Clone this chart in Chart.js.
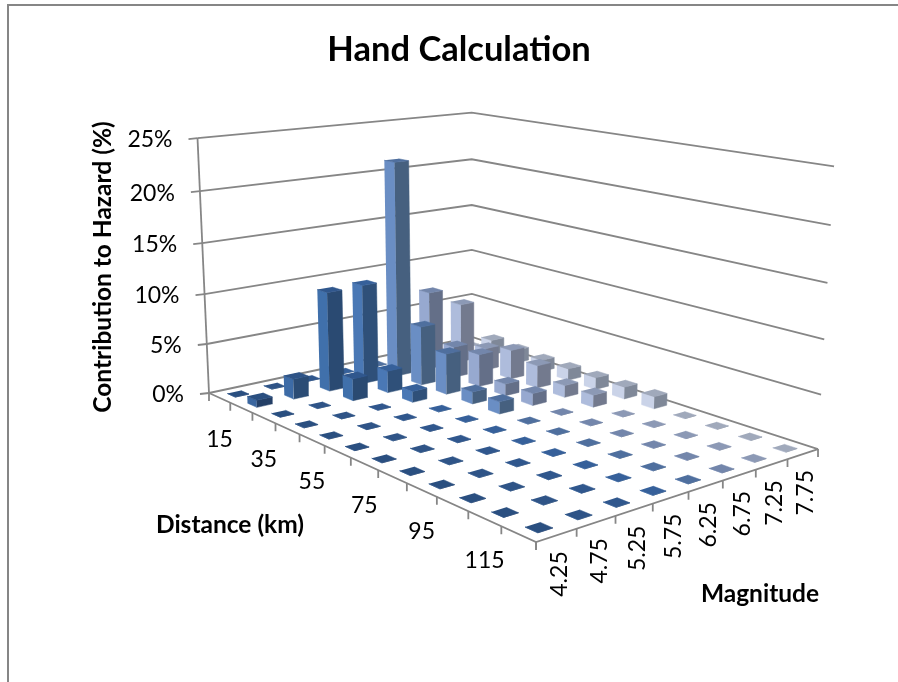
<!DOCTYPE html>
<html>
<head>
<meta charset="utf-8">
<script src="https://cdn.jsdelivr.net/npm/chart.js@4"></script>
<style>
	html, body { margin: 0; padding: 0; background: #fff; }
	#wrap { position: relative; width: 898px; height: 682px; overflow: hidden; }
	#frame { position: absolute; left: 7px; top: 4px; width: 900px; height: 700px; border: 2px solid #868686; box-sizing: border-box; }
</style>
</head>
<body>
<div id="wrap">
	<canvas id="chart" width="898" height="682"></canvas>
	<div id="frame"></div>
</div>
<script>

/* Tick labels */
var distances = [15, 25, 35, 45, 55, 65, 75, 85, 95, 105, 115, 125];
var magnitudes = ['4.25', '4.75', '5.25', '5.75', '6.25', '6.75', '7.25', '7.75'];
var hazardTicks = [0, 5, 10, 15, 20, 25];

/* Contribution to hazard (%), one list per magnitude, one value per distance */
var mag425 = [0, 0.7, 0, 0, 0, 0, 0, 0, 0, 0, 0, 0];
var mag475 = [0, 2.0, 0, 0, 0, 0, 0, 0, 0, 0, 0, 0];
var mag525 = [0, 10.0, 2.2, 0, 0, 0, 0, 0, 0, 0, 0, 0];
var mag575 = [0, 10.1, 2.2, 1.1, 0, 0, 0, 0, 0, 0, 0, 0];
var mag625 = [0, 21.9, 6.0, 4.1, 1.2, 1.2, 0, 0, 0, 0, 0, 0];
var mag675 = [0, 8.1, 3.2, 3.3, 1.2, 1.2, 0, 0, 0, 0, 0, 0];
var mag725 = [0, 6.2, 2.3, 3.0, 2.3, 1.2, 1.2, 0, 0, 0, 0, 0];
var mag775 = [0, 1.6, 1.4, 1.2, 1.2, 1.2, 1.2, 1.2, 0, 0, 0, 0];
var series = [mag425, mag475, mag525, mag575, mag625, mag675, mag725, mag775];

/* Colours per magnitude */
var topColors = ['#2a4f80', '#2f5487', '#30578d', '#36609a', '#4f6f9e', '#7386ab', '#8c99b5', '#a0a9bb'];
var leftColors = ['#3a669f', '#3d6ba6', '#4070ab', '#4a78b5', '#6a8ec4', '#97a9d0', '#aebcdc', '#cad3e8'];
var rightColors = ['#243f66', '#2b4c75', '#2a4a72', '#2f5079', '#46607f', '#646f88', '#737a8e', '#7f8898'];

var axisGrey = '#868686';
var fontName = 'Lato, Carlito, sans-serif';




/* ********************************

    Projection - floor square to page

******************************** */

/* floor corners are L(209,393) B(472,337) R(818,449) F(536,542) */
function floorW(u, v) {
	return 1 + 0.1359 * u - 0.2342 * v;
}

function floorPoint(u, v) {
	var w = floorW(u, v);
	return {
		x: (327.1 * u + 201.5 * v + 209) / w,
		y: (-10.2 * u + 22.1 * v + 393) / w
	};
}

/* u = across magnitudes, v = across distances, pct = height on the hazard axis */
function project(u, v, pct) {
	var p = floorPoint(u, v);
	var t = pct / 25;
	var lift = 242.6 * t / (1 - 0.0485 * t) / floorW(u, v);
	return {
		x: p.x + (p.x - 480) / (6400 - p.y) * lift,
		y: p.y - lift
	};
}




/* ********************************

    Datasets - every wall line and bar face is one dataset

******************************** */

var datasets = [];

function addLine(points, width) {
	datasets.push({
		data: points,
		showLine: true,
		fill: false,
		borderColor: axisGrey,
		borderWidth: width || 1.8,
		pointRadius: 0,
		tension: 0
	});
}

function addFace(points, color) {
	datasets.push({
		data: points,
		showLine: true,
		fill: 'shape',
		backgroundColor: color,
		borderColor: color,
		borderWidth: 0.5,
		pointRadius: 0,
		tension: 0
	});
}

function buildWalls() {
	hazardTicks.forEach(function(pct) {
		var rightEnd = project(1, 1, pct);
		addLine([project(0, 0, pct), project(1, 0, pct), rightEnd]);
		var leftEnd = project(0, 0, pct);
		addLine([leftEnd, { x: leftEnd.x - 9, y: leftEnd.y + 1 }]);
	});
	addLine([project(0, 0, 0), project(0, 0, 25)]);
}
buildWalls();

function buildFloorAxes() {
	addLine([project(0, 0, 0), project(0, 1, 0), project(1, 1, 0)]);
	distances.concat(['end']).forEach(function(d, i) {
		var p = project(0, i / distances.length, 0);
		addLine([p, { x: p.x, y: p.y + 8 }]);
	});
	magnitudes.concat(['end']).forEach(function(m, i) {
		var p = project(i / magnitudes.length, 1, 0);
		addLine([p, { x: p.x, y: p.y + 8 }]);
	});
}
buildFloorAxes();

function buildBars() {
	/* back rows first, far columns first, so that nearer bars paint over */
	distances.forEach(function(d, r) {
		for (var c = magnitudes.length - 1; c >= 0; c--) {
			var u = (c + 0.5) / magnitudes.length;
			var v = (r + 0.5) / distances.length;
			var h = series[c][r];

			/* empty cells read a bit smaller than real bars */
			var size = h > 0 ? 0.42 : 0.37;
			var du = size / 2 / magnitudes.length;
			var dv = size / 2 / distances.length;

			var leftCorner = [u - du, v - dv];
			var bottomCorner = [u - du, v + dv];
			var rightCorner = [u + du, v + dv];
			var topCorner = [u + du, v - dv];

			addFace([
				project(leftCorner[0], leftCorner[1], 0),
				project(bottomCorner[0], bottomCorner[1], 0),
				project(bottomCorner[0], bottomCorner[1], h),
				project(leftCorner[0], leftCorner[1], h)
			], leftColors[c]);
			addFace([
				project(bottomCorner[0], bottomCorner[1], 0),
				project(rightCorner[0], rightCorner[1], 0),
				project(rightCorner[0], rightCorner[1], h),
				project(bottomCorner[0], bottomCorner[1], h)
			], rightColors[c]);
			addFace([
				project(leftCorner[0], leftCorner[1], h),
				project(bottomCorner[0], bottomCorner[1], h),
				project(rightCorner[0], rightCorner[1], h),
				project(topCorner[0], topCorner[1], h)
			], topColors[c]);
		}
	});
}
buildBars();

/* chart.js paints the first dataset last */
datasets.reverse();




/* ********************************

    Axis text

******************************** */

function putText(ctx, text, x, y, font, align, angle) {
	ctx.save();
	ctx.translate(x, y);
	ctx.rotate(angle || 0);
	ctx.font = font;
	ctx.fillStyle = '#000';
	ctx.textAlign = align;
	ctx.textBaseline = 'middle';
	ctx.fillText(text, 0, 0);
	ctx.restore();
}

var axisText = {
	id: 'axisText',
	afterDraw: function(chart) {
		var ctx = chart.ctx;
		var sx = chart.scales.x;
		var sy = chart.scales.y;
		var tickFont = '23px ' + fontName;
		var labelFont = 'bold 24.5px ' + fontName;

		hazardTicks.forEach(function(pct) {
			var p = project(0, 0, pct);
			putText(ctx, pct + '%', sx.getPixelForValue(p.x - 25), sy.getPixelForValue(p.y + 2), tickFont, 'right');
		});

		distances.forEach(function(d, i) {
			if (i % 2 == 1) return;
			var p = project(0, (i + 0.5) / distances.length, 0);
			putText(ctx, String(d), sx.getPixelForValue(p.x), sy.getPixelForValue(p.y + 42), tickFont, 'center');
		});

		magnitudes.forEach(function(m, i) {
			var p = project((i + 0.5) / magnitudes.length, 1, 0);
			putText(ctx, m, sx.getPixelForValue(p.x + 3), sy.getPixelForValue(p.y + 16), tickFont, 'right', -Math.PI / 2);
		});

		putText(ctx, 'Contribution to Hazard (%)', 103, 267, labelFont, 'center', -Math.PI / 2);
		putText(ctx, 'Distance (km)', 230, 525, labelFont, 'center');
		putText(ctx, 'Magnitude', 760, 594, labelFont, 'center');
	}
};




/* ********************************

    Chart

******************************** */

var chart = new Chart(document.getElementById('chart'), {
	type: 'scatter',
	data: { datasets: datasets },
	plugins: [axisText],
	options: {
		responsive: false,
		animation: false,
		layout: { padding: { left: 20 } },
		plugins: {
			legend: { display: false },
			tooltip: { enabled: false },
			title: {
				display: true,
				text: 'Hand Calculation',
				color: '#000',
				align: 'center',
				padding: { top: 29, bottom: 0 },
				font: { family: fontName, size: 34.5, weight: 'bold', lineHeight: 1.2 }
			}
		},
		scales: {
			x: { type: 'linear', display: false, min: 20, max: 898 },
			y: { type: 'linear', display: false, min: 70.4, max: 682, reverse: true }
		}
	}
});

</script>
</body>
</html>
